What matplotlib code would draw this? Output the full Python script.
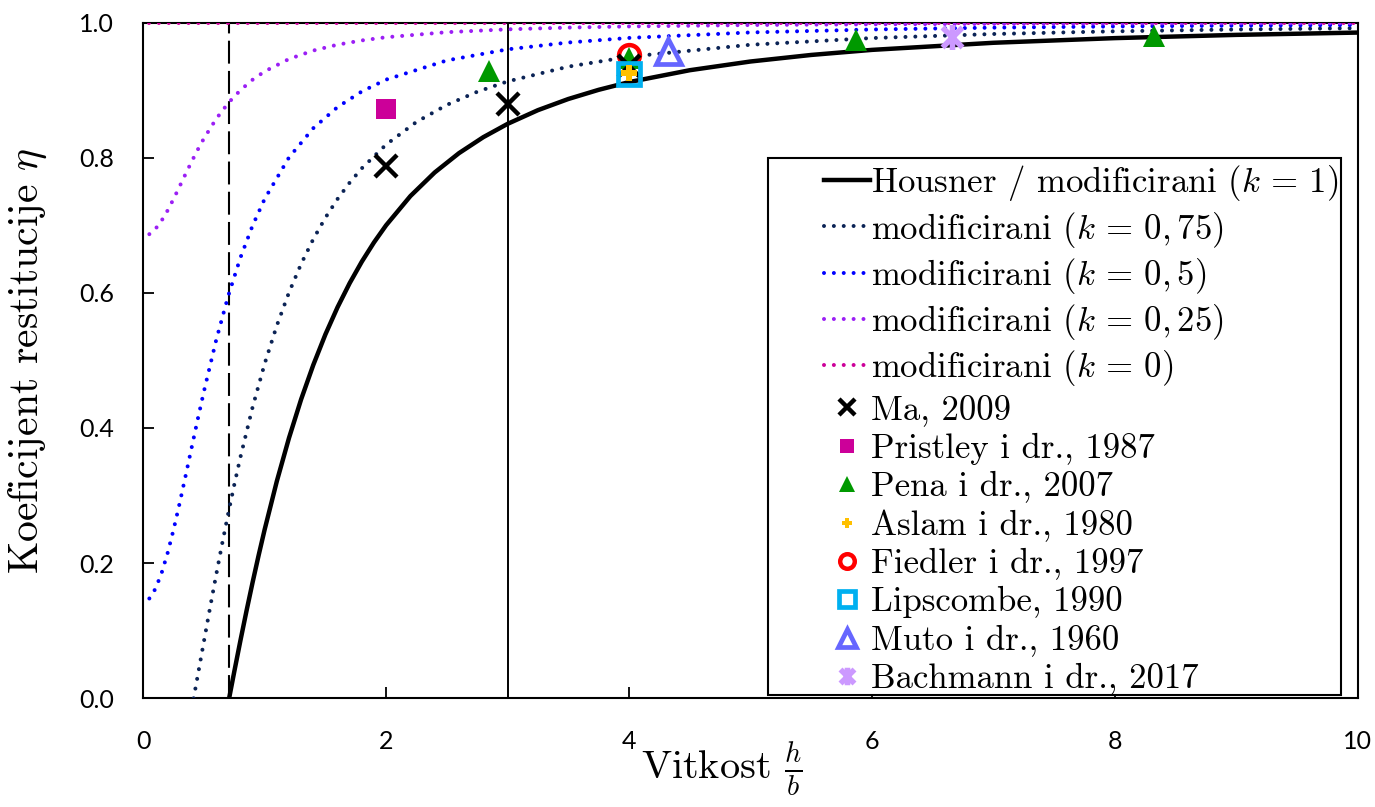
import matplotlib
matplotlib.use("Agg")
import matplotlib.pyplot as plt
from matplotlib.path import Path
from matplotlib.patches import Rectangle

plt.rcParams['mathtext.fontset'] = 'cm'
plt.rcParams['font.family'] = ['cmr10', 'DejaVu Serif']
plt.rcParams['axes.formatter.use_mathtext'] = True

# ---------------- data ----------------
x_housner = [0.7071, 0.72, 0.75, 0.8, 0.85, 0.9, 0.95, 1.0, 1.1, 1.2, 1.3, 1.4, 1.5, 1.6, 1.7,
             1.8, 1.9, 2.0, 2.2, 2.4, 2.6, 2.8, 3.0, 3.25, 3.5, 3.75, 4.0, 4.5, 5, 5.5, 6, 7,
             8, 9, 10]
eta_housner = [0.0, 0.0121, 0.040, 0.0854, 0.1292, 0.1713, 0.2116, 0.25, 0.3213, 0.3852,
               0.4424, 0.4932, 0.5385, 0.5787, 0.6144, 0.6462, 0.6746, 0.70, 0.7432, 0.7781,
               0.8067, 0.8303, 0.85, 0.8703, 0.8868, 0.9004, 0.9118, 0.9294, 0.9423, 0.952,
               0.9595, 0.97, 0.9769, 0.9817, 0.9851]

x_k075 = [0.4146, 0.43, 0.45, 0.5, 0.55, 0.6, 0.65, 0.7, 0.75, 0.8, 0.9, 1.0, 1.1, 1.2, 1.3,
          1.4, 1.5, 1.6, 1.7, 1.8, 2.0, 2.25, 2.5, 2.75, 3.0, 3.5, 4, 5, 6, 7, 8, 9, 10]
eta_k075 = [0.0, 0.0152, 0.035, 0.0847, 0.1341, 0.1823, 0.2290, 0.2738, 0.3165, 0.3568,
            0.4306, 0.4953, 0.5516, 0.6005, 0.6428, 0.6794, 0.7112, 0.7389, 0.7631, 0.7843,
            0.8194, 0.8529, 0.8781, 0.8975, 0.9128, 0.9347, 0.9494, 0.9671, 0.9770, 0.9830,
            0.9870, 0.9897, 0.9916]

x_mod = [0.05, 0.1, 0.15, 0.2, 0.25, 0.3, 0.35, 0.4, 0.45, 0.5, 0.6, 0.7, 0.8, 0.9, 1.0,
         1.2, 1.4, 1.6, 1.8, 2.0, 2.5, 3.0, 3.5, 4, 5, 6, 7, 8, 9, 10]
eta_k05 = [0.1477, 0.1620, 0.1848, 0.2147, 0.25, 0.2891, 0.3304, 0.3724, 0.4141, 0.4545,
           0.5298, 0.5957, 0.6520, 0.6994, 0.7391, 0.8003, 0.8436, 0.8749, 0.8980, 0.9155,
           0.9439, 0.9603, 0.9704, 0.9772, 0.9853, 0.9897, 0.9924, 0.9942, 0.9954, 0.9963]
eta_k025 = [0.6868, 0.6945, 0.7065, 0.7217, 0.7391, 0.7577, 0.7765, 0.7948, 0.8123, 0.8286,
            0.8573, 0.8809, 0.8999, 0.9153, 0.9277, 0.9460, 0.9585, 0.9672, 0.9735, 0.9782,
            0.9857, 0.9899, 0.9925, 0.9942, 0.9963, 0.9974, 0.9981, 0.9985, 0.9988, 0.9991]

x_k0 = [0.05, 10]
eta_k0 = [1.0, 1.0]

x_limit = 0.7071   # dashed vertical line
x_ref = 3.0        # solid vertical line

ma_x, ma_y = [2.0, 3.0, 4.0], [0.787, 0.879, 0.935]
pristley_x, pristley_y = [2.0], [0.872]
pena_x, pena_y = [2.85, 4.0, 5.87, 8.32], [0.928, 0.947, 0.974, 0.980]
aslam_x, aslam_y = [4.0], [0.925]
fiedler_x, fiedler_y = [4.0], [0.952]
lipscombe_x, lipscombe_y = [4.0], [0.924]
muto_x, muto_y = [4.32], [0.958]
bachmann_x, bachmann_y = [6.66], [0.979]

labels = [r'Housner / modificirani ($k\,=\,1$)', r'modificirani ($k\,=\,0,75$)',
          r'modificirani ($k\,=\,0,5$)', r'modificirani ($k\,=\,0,25$)',
          r'modificirani ($k\,=\,0$)',
          'Ma, 2009', 'Pristley i dr., 1987', 'Pena i dr., 2007', 'Aslam i dr., 1980',
          'Fiedler i dr., 1997', 'Lipscombe, 1990', 'Muto i dr., 1960', 'Bachmann i dr., 2017']

xticks = [0, 2, 4, 6, 8, 10]
yticks = [0.0, 0.2, 0.4, 0.6, 0.8, 1.0]

# ---------------- figure ----------------
fig = plt.figure(figsize=(13.75, 8.07), dpi=100)
ax = fig.add_axes([0.1042, 0.1347, 0.8831, 0.8374])

dot = (0, (0.001, 2.45))
lw_dot = 2.9
ax.plot(x_housner, eta_housner, color='black', lw=3.2, label=labels[0], zorder=3)
ax.plot(x_k075, eta_k075, color='#0B2355', lw=lw_dot, ls=dot, dash_capstyle='round', label=labels[1], zorder=3)
ax.plot(x_mod, eta_k05, color='#0000FF', lw=lw_dot, ls=dot, dash_capstyle='round', label=labels[2], zorder=3)
ax.plot(x_mod, eta_k025, color='#9B1FF5', lw=lw_dot, ls=dot, dash_capstyle='round', label=labels[3], zorder=3)
ax.plot(x_k0, eta_k0, color='#CC0099', lw=lw_dot, ls=dot, dash_capstyle='round', label=labels[4], zorder=3)

ax.axvline(x_limit, color='black', lw=1.5, ls=(0, (11, 3.5)), zorder=2)
ax.axvline(x_ref, color='black', lw=1.4, zorder=2)

star = Path([(-1, -1), (1, 1), (-1, 1), (1, -1), (0, -1.25), (0, 1.25)],
            [Path.MOVETO, Path.LINETO, Path.MOVETO, Path.LINETO, Path.MOVETO, Path.LINETO])

ax.plot(fiedler_x, fiedler_y, ls='none', marker='o', ms=15, mfc='none', mec='#FF0000', mew=3.2, label=labels[9], zorder=5)
ax.plot(pena_x, pena_y, ls='none', marker='^', ms=16, mfc='#009900', mec='#009900', mew=0, label=labels[7], zorder=6)
ax.plot(ma_x, ma_y, ls='none', marker='x', ms=16, mec='black', mew=3.2, label=labels[5], zorder=7)
ax.plot(lipscombe_x, lipscombe_y, ls='none', marker='s', ms=16, mfc='none', mec='#00B0F0', mew=3.4, label=labels[10], zorder=8)
ax.plot(aslam_x, aslam_y, ls='none', marker='P', ms=11, mfc='#FFC000', mec='#FFC000', mew=0, label=labels[8], zorder=9)
ax.plot(pristley_x, pristley_y, ls='none', marker='s', ms=14, mfc='#CC0099', mec='#CC0099', mew=0, label=labels[6], zorder=6)
ax.plot(muto_x, muto_y, ls='none', marker='^', ms=18, mfc='none', mec='#6666FF', mew=3.4, label=labels[11], zorder=6)
ax.plot(bachmann_x, bachmann_y, ls='none', marker=star, ms=18, mfc='none', mec='#CC99FF', mew=4, label=labels[12], zorder=6)

ax.set_xlim(0, 10)
ax.set_ylim(0, 1.0)
ax.set_xticks(xticks)
ax.set_yticks(yticks)
ax.set_xticklabels([str(t) for t in xticks], fontfamily='Lato', fontsize=18)
ax.set_yticklabels(['%.1f' % t for t in yticks], fontfamily='Lato', fontsize=18)
ax.tick_params(axis='x', direction='in', length=8, width=1.3, pad=23)
ax.tick_params(axis='y', direction='in', length=8, width=1.3, pad=21)
for s in ax.spines.values():
    s.set_linewidth(1.5)

ax.set_xlabel(r'Vitkost $\frac{h}{b}$', fontsize=29, labelpad=-9, x=0.476)
ax.set_ylabel(r'Koeficijent restitucije $\eta$', fontsize=30, labelpad=22)

# legend frame drawn separately
ax.add_patch(Rectangle((0.5145, 0.005), 0.4719, 0.7945, transform=ax.transAxes,
                       facecolor='white', edgecolor='black', lw=1.5, zorder=10))
handles, labs = ax.get_legend_handles_labels()
order = [labs.index(l) for l in labels]
leg = ax.legend([handles[i] for i in order], [labs[i] for i in order],
                loc='lower right', bbox_to_anchor=(1.0015, -0.026), frameon=False,
                fontsize=25, handlelength=1.3, handletextpad=0.05, labelspacing=0.18,
                borderpad=0.1, numpoints=1, markerscale=0.7)
leg.set_zorder(11)

fig.savefig('out.png', dpi=100)
